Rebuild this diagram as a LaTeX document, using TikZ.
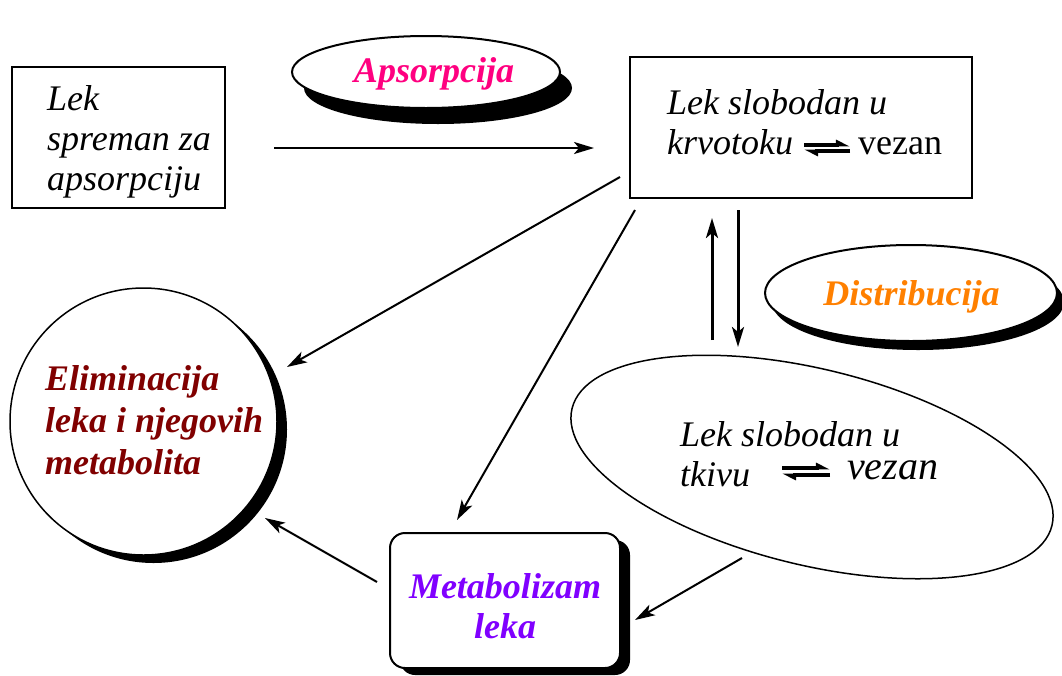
\documentclass[tikz,border=0pt]{standalone}
\usepackage{fontspec}
\setmainfont{Liberation Serif}
\usetikzlibrary{arrows.meta,shapes.geometric,shadows}
\definecolor{apscol}{RGB}{255,0,128}
\definecolor{discol}{RGB}{255,128,0}
\definecolor{elicol}{RGB}{128,0,0}
\definecolor{metcol}{RGB}{128,0,255}
\begin{document}
\begin{tikzpicture}[x=1pt,y=-1pt,
  box/.style={draw, line width=1.5pt, inner sep=0pt, fill=white},
  labeltxt/.style={font=\fontsize{36}{40}\selectfont\itshape, inner sep=0pt, align=left},
  proc/.style={font=\fontsize{36}{40}\selectfont\bfseries\itshape, inner sep=0pt},
  oval/.style={ellipse, draw, line width=2pt, fill=white, inner sep=0pt},
  conn/.style={line width=2pt, -{Stealth[length=20pt,width=12pt,inset=5pt]}},
  harp/.style={line width=3.5pt, -{Triangle[harpoon,length=11pt,width=10pt]}},
]
\useasboundingbox (0,0) rectangle (1062,675);

% shapes
\node[box, minimum width=213, minimum height=141] (ready) at (118.5,137.5) {};
\node[box, minimum width=342, minimum height=141] (blood) at (801,127.5) {};
\node[oval, minimum width=268, minimum height=72,
      drop shadow={shadow xshift=12pt, shadow yshift=-16pt, opacity=1, fill=black}] (aps) at (426,72) {};
\node[oval, minimum width=292, minimum height=96,
      drop shadow={shadow xshift=7pt, shadow yshift=-9pt, opacity=1, fill=black}] (dis) at (911,293) {};
\node[circle, draw, line width=1.5pt, fill=white, minimum size=267, inner sep=0pt,
      drop shadow={shadow xshift=10pt, shadow yshift=-8pt, opacity=1, fill=black}] (elim) at (143.5,421.5) {};
\node[ellipse, draw, line width=1.5pt, minimum width=494, minimum height=196, inner sep=0pt, rotate=-13.7] (tissue) at (812,467) {};
\node[box, line width=2pt, rounded corners=15pt, minimum width=230, minimum height=135,
      drop shadow={shadow xshift=10pt, shadow yshift=-7pt, opacity=1, fill=black}] (metab) at (505,600.5) {};

% texts
\node[labeltxt, anchor=north west] (readytxt) at (47,85) {Lek\\spreman za\\apsorpciju};
\node[labeltxt, anchor=north west] (bloodtxt) at (667,89) {Lek slobodan u\\krvotoku\hspace{65pt}{\upshape vezan}};
\node[labeltxt, anchor=north west] (tissuetxt) at (680,421) {Lek slobodan u\\tkivu\hspace{97pt}\raisebox{7pt}{\fontsize{40}{40}\selectfont vezan}};
\node[proc, text=apscol, anchor=base] (apstxt) at (434,82) {Apsorpcija};
\node[proc, text=discol, anchor=base] (distxt) at (911.5,305) {Distribucija};
\node[proc, text=elicol, anchor=north west, align=left, font=\fontsize{36}{42}\selectfont\bfseries\itshape] (elimtxt) at (45,365.5) {Eliminacija\\leka i njegovih\\metabolita};
\node[proc, text=metcol, anchor=north, align=center] (metabtxt) at (505,573.5) {Metabolizam\\leka};

% equilibrium harpoons
\coordinate (hb1) at (804,145); \coordinate (hb2) at (850,145);
\coordinate (hb3) at (850,151); \coordinate (hb4) at (804,151);
\draw[harp] (hb1) -- (hb2);
\draw[harp] (hb3) -- (hb4);
\coordinate (ht1) at (782,468); \coordinate (ht2) at (830,468);
\coordinate (ht3) at (830,475); \coordinate (ht4) at (782,475);
\draw[harp] (ht1) -- (ht2);
\draw[harp] (ht3) -- (ht4);

% connectors
\coordinate (c1s) at (274,148); \coordinate (c1e) at (594,148);
\coordinate (c2s) at (620,177); \coordinate (c2e) at (287,367);
\coordinate (c3s) at (635,210); \coordinate (c3e) at (457,520);
\coordinate (c4s) at (712,340); \coordinate (c4e) at (712,218);
\coordinate (c5s) at (738,210); \coordinate (c5e) at (738,347);
\coordinate (c6s) at (742,558); \coordinate (c6e) at (635,620);
\coordinate (c7s) at (377,582); \coordinate (c7e) at (265,518);
\draw[conn, line width=2.5pt] (c1s) -- (c1e);
\draw[conn] (c2s) -- (c2e);
\draw[conn] (c3s) -- (c3e);
\draw[conn, line width=3pt] (c4s) -- (c4e);
\draw[conn, line width=3pt] (c5s) -- (c5e);
\draw[conn] (c6s) -- (c6e);
\draw[conn] (c7s) -- (c7e);
\end{tikzpicture}
\end{document}
